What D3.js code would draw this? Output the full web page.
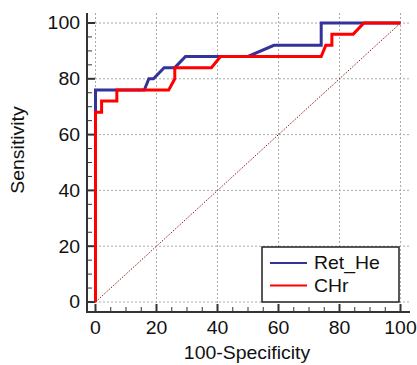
<!DOCTYPE html>
<html>
<head>
<meta charset="utf-8">
<script src="https://cdn.jsdelivr.net/npm/d3@7"></script>
<style>
  body { margin: 0; background: #fff; }
  svg text { font-family: "Liberation Sans", Arial, sans-serif; fill: #111; }
</style>
</head>
<body>
<div id="chart"></div>
<script>
// ROC data (x = 100-Specificity, y = Sensitivity)
const retHeX = [0, 0, 16, 17.5, 19, 22.5, 26, 29.5, 50, 58.5, 74, 74, 100];
const retHeY = [0, 76, 76, 80, 80, 84, 84, 88, 88, 92, 92, 100, 100];
const chrX = [0, 0, 2, 2, 7, 7, 24, 26, 26, 38, 41, 74, 75.5, 77.5, 77.5, 84.5, 88, 100];
const chrY = [0, 68, 68, 72, 72, 76, 76, 80, 84, 84, 88, 88, 92, 92, 96, 96, 100, 100];
const tickValues = [0, 20, 40, 60, 80, 100];
const seriesNames = ["Ret_He", "CHr"];
const seriesColors = ["#333399", "#ff0000"];

const width = 417, height = 365;
const stretch = 1.08; // text in the picture is a bit wider than plain Arial

const svg = d3.select("#chart").append("svg")
  .attr("width", width)
  .attr("height", height);

// scales: data range 0..100 maps a bit inside the axis frame
const x = d3.scaleLinear().domain([0, 100]).range([95.5, 400.5]);
const y = d3.scaleLinear().domain([0, 100]).range([302, 23]);

const frameLeft = 87, frameBottom = 312, frameTop = 13, frameRight = 410;

// grid
svg.append("g").selectAll("line.gx")
  .data(tickValues).join("line")
  .attr("x1", d => x(d)).attr("x2", d => x(d))
  .attr("y1", frameTop).attr("y2", frameBottom)
  .attr("stroke", "#aaa").attr("stroke-dasharray", "2,2").attr("stroke-width", 1);
svg.append("g").selectAll("line.gy")
  .data(tickValues).join("line")
  .attr("x1", frameLeft).attr("x2", frameRight)
  .attr("y1", d => y(d)).attr("y2", d => y(d))
  .attr("stroke", "#aaa").attr("stroke-dasharray", "2,2").attr("stroke-width", 1);

// diagonal reference line
svg.append("line")
  .attr("x1", x(0)).attr("y1", y(0))
  .attr("x2", x(100)).attr("y2", y(100))
  .attr("stroke", "#8b1a1a").attr("stroke-width", 1)
  .attr("stroke-dasharray", "1.5,1.5");

// axes (ticks point inward)
const minor = d3.range(0, 101, 5);
const xAxis = svg.append("g").attr("transform", `translate(0,${frameBottom})`);
xAxis.append("line").attr("x1", frameLeft).attr("x2", frameRight)
  .attr("stroke", "#333").attr("stroke-width", 2);
xAxis.selectAll("line.t").data(minor).join("line")
  .attr("x1", d => x(d)).attr("x2", d => x(d))
  .attr("y1", 0).attr("y2", d => d % 20 === 0 ? -8 : -5)
  .attr("stroke", "#333").attr("stroke-width", d => d % 20 === 0 ? 2 : 1);
xAxis.selectAll("text").data(tickValues).join("text")
  .attr("transform", d => `translate(${x(d)},22) scale(${stretch},1)`)
  .attr("text-anchor", "middle")
  .style("font-size", "18px")
  .text(d => d);

const yAxis = svg.append("g").attr("transform", `translate(${frameLeft},0)`);
yAxis.append("line").attr("y1", frameTop).attr("y2", frameBottom + 1)
  .attr("stroke", "#333").attr("stroke-width", 2);
yAxis.selectAll("line.t").data(minor).join("line")
  .attr("y1", d => y(d)).attr("y2", d => y(d))
  .attr("x1", 0).attr("x2", d => d % 20 === 0 ? 8 : 5)
  .attr("stroke", "#333").attr("stroke-width", d => d % 20 === 0 ? 2 : 1);
yAxis.selectAll("text").data(tickValues).join("text")
  .attr("transform", d => `translate(-7,${y(d)}) scale(${stretch},1)`)
  .attr("dy", "0.35em")
  .attr("text-anchor", "end")
  .style("font-size", "18px")
  .text(d => d);

// axis titles
svg.append("text")
  .attr("transform", `translate(247,359) scale(${stretch},1)`)
  .attr("text-anchor", "middle")
  .style("font-size", "18px")
  .text("100-Specificity");
svg.append("text")
  .attr("transform", `translate(24,150) rotate(-90) scale(${stretch},1)`)
  .attr("text-anchor", "middle")
  .style("font-size", "18px")
  .text("Sensitivity");

// curves
const line = d3.line().x(d => x(d[0])).y(d => y(d[1]));
const series = [d3.zip(retHeX, retHeY), d3.zip(chrX, chrY)];
svg.append("g").selectAll("path")
  .data(series).join("path")
  .attr("d", line)
  .attr("fill", "none")
  .attr("stroke", (d, i) => seriesColors[i])
  .attr("stroke-width", 3)
  .attr("stroke-linejoin", "miter");

// legend
const lg = svg.append("g").attr("transform", "translate(262,247)");
lg.append("rect").attr("width", 137).attr("height", 55)
  .attr("fill", "#fff").attr("stroke", "#222").attr("stroke-width", 1.5);
const items = lg.selectAll("g").data(seriesNames).join("g")
  .attr("transform", (d, i) => `translate(0,${16 + i * 22.5})`);
items.append("line").attr("x1", 8).attr("x2", 45)
  .attr("stroke", (d, i) => seriesColors[i]).attr("stroke-width", 2);
items.append("text")
  .attr("transform", `translate(52,0) scale(${stretch},1)`)
  .attr("dy", "0.35em")
  .style("font-size", "18px")
  .text(d => d);
</script>
</body>
</html>
